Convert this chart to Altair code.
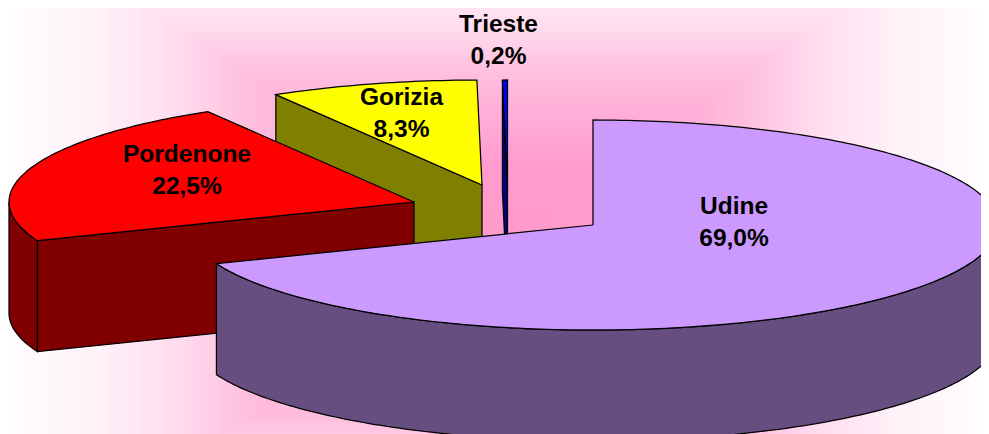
import math
import altair as alt
import pandas as pd

# --- values ---
NAMES = ["Udine", "Pordenone", "Gorizia", "Trieste"]
SHARES = [69.0, 22.5, 8.3, 0.2]
TOP_COLORS = ["#CC99FF", "#FF0000", "#FFFF00", "#0000FF"]
SIDE_COLORS = ["#664E80", "#800000", "#808000", "#000080"]

# --- layout of the exploded 3D pie (image pixels) ---
RX, RY, DEPTH = 405, 105, 111
APEX = {"Udine": (593, 225), "Pordenone": (414, 202), "Gorizia": (482, 185), "Trieste": (507.5, 185)}
LABEL_POS = {"Udine": (734, 207), "Pordenone": (187, 155), "Gorizia": (401.5, 98), "Trieste": (498.5, 24.5)}
LINE_GAP = 32
FONT_SIZE = 24.5
W, H = 973, 426

X = alt.X("x:Q", axis=None, scale=alt.Scale(domain=[8, 981], nice=False, zero=False))
Y = alt.Y("y:Q", axis=None, scale=alt.Scale(domain=[434, 8], nice=False, zero=False))

# wedge angles, clockwise from 12 o'clock
spans, a = {}, 0.0
for n, s in zip(NAMES, SHARES):
    spans[n] = (a, a + s * 3.6)
    a += s * 3.6


def rim(name, d0, d1, depth=0):
    cx, cy = APEX[name]
    steps = max(2, int(abs(d1 - d0)) + 2)
    out = []
    for i in range(steps):
        t = math.radians(d0 + (d1 - d0) * i / (steps - 1))
        out.append((cx + RX * math.sin(t), cy - RY * math.cos(t) + depth))
    return out


def poly(pts, fill):
    pts = list(pts) + [pts[0]]
    df = pd.DataFrame({"x": [p[0] for p in pts], "y": [p[1] for p in pts], "i": range(len(pts))})
    return alt.Chart(df).mark_line(fill=fill, stroke="black", strokeWidth=1.25, clip=True).encode(
        x=X, y=Y, order="i:Q"
    )


def top_face(name, color):
    d0, d1 = spans[name]
    return poly([APEX[name]] + rim(name, d0, d1), color)


def cut_face(name, deg, color):
    cx, cy = APEX[name]
    p = rim(name, deg, deg)[0]
    return poly([p, (cx, cy), (cx, cy + DEPTH), (p[0], p[1] + DEPTH)], color)


def wall(name, d0, d1, color):
    return poly(rim(name, d0, d1) + rim(name, d1, d0, DEPTH), color)


# --- background: rectangular gradient, pink centre to white edge ---
BG_CENTER = (497, 246)
BG_HALF = (497, 342)
BG_STEPS = 64
BG_T = [0.0, 0.25, 0.5, 0.66, 0.8, 1.0]
BG_F = [0.0, 0.03, 0.35, 0.67, 0.85, 1.0]


def fade(t):
    for i in range(len(BG_T) - 1):
        if t <= BG_T[i + 1]:
            return BG_F[i] + (BG_F[i + 1] - BG_F[i]) * (t - BG_T[i]) / (BG_T[i + 1] - BG_T[i])
    return 1.0


bg_rows = []
for k in range(BG_STEPS, 0, -1):
    t = k / BG_STEPS
    f = fade(t)
    g = round(153 + 102 * f)
    b = round(204 + 51 * f)
    bg_rows.append({
        "x": BG_CENTER[0] - BG_HALF[0] * t, "x2": BG_CENTER[0] + BG_HALF[0] * t,
        "y": BG_CENTER[1] - BG_HALF[1] * t, "y2": BG_CENTER[1] + BG_HALF[1] * t,
        "c": f"#ff{g:02x}{b:02x}",
    })
background = alt.Chart(pd.DataFrame(bg_rows)).mark_rect(clip=True, strokeWidth=0).encode(
    x=X, x2="x2:Q", y=Y, y2="y2:Q", color=alt.Color("c:N", scale=None)
)

layers = [background]
c_top = dict(zip(NAMES, TOP_COLORS))
c_side = dict(zip(NAMES, SIDE_COLORS))

# back to front: Trieste, Gorizia, Pordenone, Udine
layers += [cut_face("Trieste", spans["Trieste"][0], c_side["Trieste"]), top_face("Trieste", c_top["Trieste"])]
layers += [cut_face("Gorizia", spans["Gorizia"][0], c_side["Gorizia"]), top_face("Gorizia", c_top["Gorizia"])]
layers += [
    wall("Pordenone", spans["Pordenone"][0], 270, c_side["Pordenone"]),
    cut_face("Pordenone", spans["Pordenone"][0], c_side["Pordenone"]),
    top_face("Pordenone", c_top["Pordenone"]),
]
layers += [wall("Udine", 90, spans["Udine"][1], c_side["Udine"]), top_face("Udine", c_top["Udine"])]

# --- labels ---
rows = []
for n, s in zip(NAMES, SHARES):
    lx, ly = LABEL_POS[n]
    rows.append({"x": lx, "y": ly, "t": n})
    rows.append({"x": lx, "y": ly + LINE_GAP, "t": f"{s:.1f}%".replace(".", ",")})
labels = alt.Chart(pd.DataFrame(rows)).mark_text(
    font="Liberation Sans", fontWeight="bold", fontSize=FONT_SIZE, color="black",
    align="center", baseline="middle",
).encode(x=X, y=Y, text="t:N")

chart = alt.layer(*layers, labels).properties(
    width=W, height=H, padding=0, background="white",
    autosize=alt.AutoSizeParams(type="none"),
).configure_view(stroke=None)

chart.save("out.html", embed_options={"renderer": "svg", "actions": False})
